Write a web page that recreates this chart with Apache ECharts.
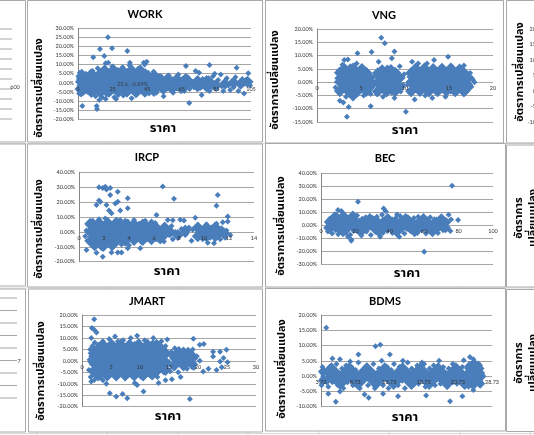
<!DOCTYPE html>
<html>
<head>
<meta charset="utf-8">
<script src="https://cdn.jsdelivr.net/npm/echarts@6/dist/echarts.min.js"></script>
<style>
  html, body { margin: 0; padding: 0; background: #fff; }
  #main { width: 534px; height: 435px; }
</style>
</head>
<body>
<div id="main"></div>
<script>
// ราคา (x) กับ อัตราการเปลี่ยนแปลง % (y) อ่านค่าจากภาพ
const stockNames = ["WORK", "VNG", "IRCP", "BEC", "JMART", "BDMS"];
const yTitle = "อัตราการเปลี่ยนแปลง";
const xTitle = "ราคา";

const workXTicks = [5, 25, 45, 65, 85, 105];
const bdmsXTicks = [3.73, 8.73, 13.73, 18.73, 23.73, 28.73];
const workLabelPoint = [23.6, -0.84];

// จุดกระจาย (ขอบกลุ่มและจุดโดด)
const workPoints = [
  [5.6,-6],[5.8,-3],[5.7,0],[5.9,3],[6,5.5],[6.2,-4.5],[6.3,-1.5],[6.4,1.5],[6.5,4],[6.8,-6.5],[6.9,-2.5],[7,0.5],[7.1,2.8],[7.2,6],
  [7.5,-4],[7.6,-1],[7.8,1.8],[7.9,4.5],[8.2,-5.5],[8.4,-2],[8.5,0],[8.7,3],[9,-3.5],[9.2,1],[9.5,5],[9.8,-1.5],[10,2.5],[10.3,-5],
  [11,-3],[11.5,0.5],[12,4],[12.3,-6],[12.8,2],[13,-1.5],[13.5,6.5],[14,-4],[14.3,1],[14.8,4.5],[15.2,-7.5],[15.5,-1],[16,2.5],[16.4,8],
  [17,-5],[17.3,0],[17.8,3.5],[18.2,-2.5],[18.6,6],[19,-8],[19.3,1.5],[20,-4.5],[20.4,-0.5],[20.8,4],[21.2,7.5],[21.5,-6.5],[22,1.5],[22.5,-2.5],
  [23,5],[24,-5.5],[24.3,2.5],[24.8,9],[25.2,-1.5],[25.5,6],[26,-8],[26.4,-3.5],[26.8,0.5],[27.3,3.5],[27.8,-6],[28,7],[28.5,-1],
  [29,2],[29.5,-4.5],[30,5.5],[30.4,-1.5],[30.8,8.5],[31.2,-7],[31.5,1],[32,-3],[32.5,3.5],[33,-0.5],[33.5,6.5],[34,-5.5],[34.4,1.5],[34.8,9.5],
  [35.2,-2],[35.6,4],[36,-8.5],[36.5,0],[37,2.5],[37.4,-4.5],[37.8,6],[38.2,-1.5],[38.6,3.5],[39,-6.5],[39.5,1],[40,8],[40.3,-3],[40.8,4.5],
  [41.2,-0.5],[41.6,-5],[42,2],[42.5,6.5],[43,-2.5],[43.5,10],[43.8,0.5],[44.2,-4],[44.6,3],[45,-1],[45.5,5.5],[46,-6],[46.4,1.5],[46.8,-2.5],
  [47.3,3.5],[47.8,-4.5],[48.2,0],[48.7,6],[49.2,-2],[49.8,2.5],[50.3,-5.5],
  [51,1],[52,-3],[53,3.5],[53.5,-0.5],[54.5,-7.5],[55,2],[56,-2.5],[57,0.5],[57.5,4],[58.5,-4],[59,1.5],[60,-5.5],[60.5,-1],[61.5,2.5],
  [62.5,-3],[63,4.5],[64,0],[65,-2],[65.5,2],[66.5,-4.5],[67,1],[68,-1.5],[68.5,3],[69.5,-3.5],
  [71,0.5],[72,-2.5],[73,6.5],[73.5,1.5],[74.5,-1],[75,5.5],[75.5,-3],[76,0],[76.5,-6.8],[77,2],[77.5,-2],[78,-0.5],[78.5,1.5],[79,-3],
  [79.5,0.5],[80,-1.5],[80.5,2.5],[81,-4.5],[81.5,-0.5],[82,1],[82.5,-2.5],[83,3.5],[84,-1],[84,5],[85,-3.5],
  [86,1.5],[87.5,4.5],[88,-2],[89,-4.5],[90,0.5],[91,2.5],[92,-1.5],[93,-4],[94,1],[95,-2.5],[96,3],[96.7,8.3],[97.7,-4.5],[98.5,0],
  [99,-2],[100,2],[101,-6],[101.5,-0.5],[102,1.5],[103.4,5.2],[104,0.5],[104.5,-1.5],
  [22.3,25],[17.7,18.6],[24.7,19],[13.8,14],[20.2,14.7],[33.5,17.5],[21,10.7],[22.5,11],[35,11],[43,11],[44.7,11.5],
  [7.5,-12.8],[15.8,-12.8],[16,-14.5],[17.3,-9.5],[21,-9],[27,-9],[69.3,-11.2],[81,9.8],[67.4,9.2]
];
// แกนกลางกลุ่มที่หนาแน่น
const workCore = [
  [6.4,-3.5],[6.7,0.5],[7,3.5],[7.6,-1.5],[7.3,2],[8.3,-3],[8.6,1],
  [10,-2.8],[10.1,2.1],[12.6,-0.2],[12.5,4.6],[12.7,-5.1],[15.2,-2.9],[15.3,2.3],[17.8,-0.4],[17.7,4.8],[17.9,-5.2],
  [20.4,-2.7],[20.5,2.2],[20.3,6.8],[23,-0.3],[23.1,4.6],[22.9,-5],[25.6,-2.8],[25.7,2.3],[25.5,7],
  [28.2,-0.2],[28.1,4.7],[28.3,-5.1],[30.8,-2.9],[30.9,2.1],[30.7,6.6],[33.4,-0.3],[33.5,4.8],[33.3,-5],
  [36,-2.7],[36.1,2.2],[35.9,6.9],[38.6,-0.4],[38.7,4.6],[38.5,-5.2],[41.2,-2.8],[41.3,2.3],[41.1,6.7],
  [43.8,-0.2],[43.9,4.7],[43.7,-5],[46.4,-2.9],[46.5,2.1],[49,-0.3],[49.1,3.8],[48.9,-4.5],
  [51.6,-1.6],[51.7,2],[54.2,0.3],[54.3,-3.5],[56.8,-1.5],[56.9,2.2],[59.4,0.2],[59.5,-3.2],[62,-1.6],[62.1,1.9],
  [64.6,0.1],[64.7,-3],[67.2,-1.4],[67.3,2],[69.8,-0.2],
  [74,-2],[74.1,1],[76.6,-0.5],[79.2,-2],[79.3,1],[81.8,-0.4],[84.4,-1.5],[90,-0.5],[95,0],[99,-0.5],[103,0.5]
];

const vngPoints = [
  [2.1,-2],[2.3,1.5],[2.5,4.5],[2.6,-4.5],[2.8,0],[2.9,6.5],[3,-2.5],[3.1,2.5],[3.3,-5.5],[3.4,-0.5],[3.5,4],[3.6,1],[3.7,-3.5],[3.8,6],
  [3.9,-1],[4,2],[4.1,-6],[4.2,0.5],[4.3,4.5],[4.4,-2.5],[4.5,7],[4.6,-4.5],[4.7,1.5],[4.8,-0.5],[4.9,3.5],[5,-3],[5.1,5.5],[5.2,0],
  [5.3,-5],[5.4,2.5],[5.5,-1.5],[5.6,4],[5.7,-3],[5.8,1],[5.9,-0.5],[6,2],[6.1,-4.5],[6.2,0.5],
  [6.5,-1],[6.7,2.5],[6.8,-4.5],[6.9,0.5],[7.1,4],[7.2,-2.5],[7.4,1.5],[7.5,-5.5],[7.6,-0.5],[7.8,3],[7.9,-3],[8,5.5],[8.1,0],[8.3,-1.5],
  [8.4,2.5],[8.5,-4],[8.6,4.5],[8.8,-6],[8.9,1],[9,-2],[9.1,3.5],[9.3,-0.5],[9.4,6],[9.5,-3.5],[9.6,1.5],[9.8,-1],[9.9,3],
  [10.3,-1],[10.5,2],[10.6,-4],[10.8,4],[11,0],[11.1,-6.5],[11.2,-2],[11.4,2.5],[11.5,7],[11.7,-3.5],[11.8,0.5],[12,4.5],[12.1,-1.5],
  [12.3,-5],[12.4,2],[12.5,7],[12.6,-0.5],[12.8,3.5],[12.9,-3],[13.1,1],[13.1,-6],[13.3,8.3],[13.4,-1.5],[13.5,4],[13.6,-4],[13.8,0],
  [13.9,2.5],[14,-2.5],[14.2,5.5],[14.3,-0.5],[14.5,1.5],[14.6,-5.5],[14.7,-2],[14.9,3.5],[15,0],[15.2,-3.5],[15.3,6],[15.4,1.5],
  [15.6,-1],[15.7,3],[15.9,-4],[16,0.5],[16.1,4.5],[16.3,-2],[16.4,2],[16.6,-0.5],[16.7,6.3],[16.8,-3],[17,1],[17,-3.5],[17.2,3],
  [17.4,-1],[17.4,3.4],[17.6,1.5],[17.7,0.9],[17.9,0],
  [7.3,16.7],[7.7,14.6],[8.8,11.5],[4.6,10.9],[6.2,11.3],[7,7.7],[8.5,9],[3.1,8.3],[3.5,8.5],[3.6,-9.4],[3.4,-13],[6.1,-9.1],
  [10.1,-11.1],[14.9,9.6],[2.6,-7],[3,-7.7],[10.8,7.7]
];
const vngCore = [
  [2.6,-3.3],[2.6,0.1],[2.6,3.5],[3.1,-1.6],[3.1,1.8],[3.1,5],[3.6,-3.5],[3.6,0],[3.6,3.3],[4.1,-1.7],[4.1,1.6],[4.1,5.1],[4.1,-5],
  [4.6,-3.4],[4.6,0.2],[4.6,3.4],[5.1,-1.8],[5.1,1.7],[5.1,4.9],[5.6,-3.3],[5.6,-0.1],[5.6,3.5],[6,-1.7],[6,1.7],
  [6.9,-3.4],[6.9,0],[6.9,3.3],[7.4,-1.6],[7.4,1.8],[7.4,4.5],[7.9,-3.5],[7.9,0.1],[7.9,3.4],[8.4,-1.7],[8.4,1.6],[8.4,4.6],
  [8.9,-3.3],[8.9,0],[8.9,3.5],[9.4,-1.8],[9.4,1.7],
  [10.7,-3.4],[10.7,0],[10.7,3.4],[11.2,-1.7],[11.2,1.7],[11.2,5],[11.7,-3.3],[11.7,0.1],[11.7,3.5],[12.2,-1.6],[12.2,1.8],[12.2,5.1],
  [12.7,-3.5],[12.7,0],[12.7,3.3],[13.2,-1.7],[13.2,1.6],[13.2,4.9],[13.7,-3.4],[13.7,0.2],[13.7,3.4],[14.2,-1.8],[14.2,1.7],[14.2,5],
  [14.7,-3.3],[14.7,-0.1],[14.7,3.5],[15.2,-1.7],[15.2,1.7],[15.2,5.1],[15.7,-3.4],[15.7,0],[15.7,3.3],[16.2,-1.6],[16.2,1.8],[16.2,4.8],
  [16.7,-3.5],[16.7,0.1],[16.7,3.4],[17.2,-1.7],[17.2,1.6]
];

const ircpPoints = [
  [0.5,-3],[0.6,1],[0.7,5],[0.8,-7],[0.9,-1],[1,3],[1.1,7.5],[1.1,-5],[1.2,-10],[1.3,0],[1.4,4],[1.4,-3],[1.5,-7.5],[1.6,2],[1.6,8.5],
  [1.7,-1.5],[1.8,-11],[1.8,5],[1.9,-4.5],[2,0.5],[2.1,9],[2.1,-8],[2.2,3],[2.3,-2],[2.4,6.5],[2.5,-5.5],[2.6,1],[2.7,-10],[2.7,4],
  [2.8,-2.5],[2.9,7.5],[3,-6.5],[3,0],[3.1,3],[3.2,-3.5],[3.3,8],[3.4,-8.5],[3.4,1.5],[3.5,5],[3.6,-1.5],[3.7,-5],[3.8,2.5],[3.9,7],
  [4,-2.5],[4,-9],[4.1,0.5],[4.2,4.5],[4.3,-6],[4.4,8],[4.5,-1],[4.6,2],[4.7,-4],[4.8,5.5],[4.9,0],[5,-7],[5.1,3],[5.2,-2],[5.3,7.5],
  [5.4,-4.5],[5.5,1],[5.6,-0.5],[5.7,4.5],[5.8,-6],[5.9,2],[6,-2.5],[6.1,6],[6.2,-5],
  [6.4,0.5],[6.5,-3],[6.7,3],[6.8,-6.5],[7,1],[7.1,8],[7.2,-2],[7.4,4],[7.5,-5],[7.5,7.8],[7.7,0],[7.9,-3.5],[8.1,8.1],[8.2,2],
  [8.4,7.7],[8.5,-2],[8.6,-1],[8.8,3],[9,-6],
  [9.1,1.5],[9.3,9.5],[9.4,-3],[9.5,0],[9.6,4],[9.8,-1.5],[9.9,-5],[10,2],[10.1,-2.5],[10.2,5],[10.3,-7.3],[10.4,0.5],[10.5,-4],
  [10.6,3],[10.7,-1],[10.8,-7.6],[10.9,1.5],[11,5.5],[11,-3],[11.2,0],[11.3,-5],[11.4,2.5],[11.5,-1.5],[11.7,-4],[11.8,1],[12.1,-2],
  [1.6,30],[1.9,29.4],[2.1,30.3],[2.2,28.4],[2.5,29.4],[1.6,21],[1.4,18],[1.7,20.3],[2.2,18],[2.4,14.3],[2.6,12.5],[2.5,24.7],
  [3.1,27],[3.1,20.3],[2.9,19],[3.3,14.3],[3.9,22.6],[3.9,15.9],[6.7,30.4],[7.6,22.2],[11.1,24.8],[11,17.5],[11.9,10.3],[11.9,7],
  [11.5,6.4],[0.6,-12.1],[1.9,-16.6],[1.4,-14],[2.6,-13.8],[3.1,-13.8],[3.4,-13.8],[3.9,-11],[4.9,-11],[6.2,11.4]
];
const ircpCore = [
  [0.9,-6],[0.9,0],[0.9,5.5],[1.25,-9],[1.25,-3],[1.25,3],[1.6,-6],[1.6,0.2],[1.6,6],[1.95,-9.5],[1.95,-3],[1.95,3.2],
  [2.3,-6.2],[2.3,0],[2.3,6],[2.65,-9],[2.65,-3.1],[2.65,3],[3,-6],[3,0.1],[3,6.2],[3.35,-3],[3.35,3],[3.7,-6],[3.7,0],[3.7,5.5],
  [4.05,-3],[4.05,3],[4.4,-5.5],[4.4,0],[4.4,5],
  [4.75,-2.5],[4.75,3],[5.1,0],[5.1,-5.5],[5.1,5],[5.45,-3],[5.45,3],[5.8,0],[5.8,-5],[5.8,5],[6.15,-2.5],[6.15,3],[6.5,0],[6.5,-4.5],
  [6.85,-1.5],[6.85,3],[7.3,0],[7.9,-2],[8.5,1],
  [9.5,-3],[9.5,3],[9.85,0],[10.2,-3],[10.2,3],[10.55,0],[10.9,-3],[10.9,3],[11.25,0],[11.6,-1]
];

const becPoints = [
  [3,-2],[3.5,2.5],[4,-5],[4.5,0.5],[5,5],[5.5,-3],[6,1.5],[6.5,-6.5],[7,6.5],[7.5,-1],[8,3],[8.5,-4],[9,8],[9.5,0],[10,-7],[10.5,4],
  [11,-2],[11.5,6],[12,1],[12.5,-4.5],[13,9],[13.5,-1],[14,3.5],[14.5,-6],[15,0.5],[15.5,5.5],[16,-3],[16.5,2],[17,-7.5],[17.5,7],
  [18,-1.5],[18.5,3],[19,-4.5],[19.5,0.5],[20,5],[20.5,-2.5],[21,7.5],[21.5,1],[22,-5.5],[22.5,3.5],[23,-1],[23.5,-8],[24,5],[24.5,0],
  [25,-3.5],[25.5,2.5],[26,6],[26.5,-5],[27,1],[27.5,-2],[28,4],[29,-7.7],[29,0],[30,5.5],[30.5,-3],[31,2],[32,-5.5],[32.5,6.5],
  [33,-0.5],[33.5,3.5],[34,-3.5],[35,1],[35.5,8],[36,-6],[36.5,4],[37,-1.5],[38,2.5],[38.5,-4.5],[39,6],[39.5,0],[40,-2.5],[41,4],
  [41.5,-6],[42,1.5],[43,-3],[43.5,5.5],[44,-0.5],[45,3],[45.5,-5],[46,7],[46.5,0.5],[47,-2],[48,4.5],[48.5,-6.5],[49,1],[50,-3],
  [50.5,6],[51,-0.5],[52,3],[52.5,-5],[53,0],[54,5.5],[54.5,-2.5],[55,2],[56,-6],[56.5,6.5],[57,-1],[58,3.5],[58.5,-4],[59,1],
  [60,-2],[60.5,5],[61,-6.5],[61.5,0.5],[62,3],[63,-3],[63.5,6],[64,-0.5],[65,2],[65.5,-5],[66,4.5],[67,-1.5],[67.5,1],[68,-6],
  [68.5,3.5],[69,-2.5],[70,5],[70.5,0],[71,-4],[71.5,2],[72,-1],[73,3.5],[73,-3],
  [76.2,30.4],[21.5,18],[36.4,12.9],[37.7,10.8],[9.9,11.6],[11.8,11],[17.6,-11],[17.6,-12],[15.7,-9],[45.5,-9],[34.4,-9],
  [60,-20.6],[74.2,8],[75.6,4.4],[79.7,3.9],[75.2,-4.5],[44.2,8.2]
];
const becCore = [
  [5,-2.5],[5,2.5],[7.6,0],[7.6,5.2],[10.2,-2.5],[10.2,2.5],[12.8,0],[12.8,-5.2],[15.4,-2.5],[15.4,2.5],[18,0],[18,5.2],
  [20.6,-2.5],[20.6,2.5],[23.2,0],[23.2,-5.2],[25.8,-2.5],[25.8,2.5],[28.4,0],[28.4,5.2],[31,-2.5],[31,2.5],[33.6,0],[33.6,-5.2],
  [36.2,-2.5],[36.2,2.5],[38.8,0],[38.8,5.2],[41.4,-2.5],[41.4,2.5],[44,0],[44,-5.2],[46.6,-2.5],[46.6,2.5],[49.2,0],[49.2,5.2],
  [51.8,-2.5],[51.8,2.5],[54.4,0],[54.4,-5.2],[57,-2.5],[57,2.5],[59.6,0],[59.6,5.2],[62.2,-2.5],[62.2,2.5],[64.8,0],[64.8,-5.2],
  [67.4,-2.5],[67.4,2.5],[70,0],[70,5],[72.4,-2],[72.4,2],[8,6.5],[13,7],[18.5,7]
];

const jmartPoints = [
  [1.2,-4],[1.3,0.5],[1.4,5],[1.5,-7],[1.6,2],[1.7,-1.5],[1.8,6.5],[1.9,-5],[2,3],[2.1,-2],[2.2,8],[2.3,0],[2.4,-6],[2.5,4.5],
  [2.6,-3],[2.7,1.5],[2.8,7],[2.9,-4.5],[3,-0.5],[3.1,3.5],[3.2,-7],[3.3,5.5],[3.4,0.5],[3.5,-2.5],[3.6,8.5],[3.7,2],[3.8,-5.5],
  [3.9,-1],[4,4],[4.1,6.5],[4.2,-3.5],[4.3,1],[4.5,-6.5],[4.6,3],[4.7,9.5],[4.8,-1.5],[5,5],[5.1,-4],[5.2,0.5],[5.4,7.5],[5.5,-2],
  [5.6,2.5],[5.8,-6],[5.9,4.5],[6,-0.5],[6.2,8.5],[6.3,-3.5],[6.4,1.5],[6.6,6],[6.7,-5],[6.8,3],[7,-1.5],[7.1,9],[7.2,0],[7.4,-7.5],
  [7.5,4.5],[7.6,-3],[7.8,6.5],[7.9,1.5],[8,-5],[8.2,3.5],[8.3,-1],[8.4,10],[8.6,-6.5],[8.7,5],[8.8,0.5],[9,-3],[9.1,7.5],[9.2,2.5],
  [9.4,-5.5],[9.5,-0.5],[9.6,4.5],[9.8,8.5],[9.9,-2.5],[10,1],[10.2,-7],[10.3,6],[10.4,-4],[10.6,3],[10.7,-1],[10.8,9],[11,-5.5],
  [11.1,5],[11.2,0],[11.4,-2.5],[11.5,7.5],[11.6,2],[11.8,-6.5],[11.9,4],[12,-1.5],[12.2,8],[12.3,1],[12.4,-4],[12.6,5.5],[12.7,-2.5],
  [12.8,3],[13,-7],[13.1,0],[13.2,6.5],[13.4,-3.5],[13.5,2.5],[13.7,8.5],[13.8,-1],[14,4.5],[14.1,-5],[14.3,1.5],[14.4,6.5],[14.6,-2],
  [14.8,3],[15,-0.5],
  [15.2,-4.5],[15.4,4],[15.6,1],[15.8,-2.5],[16,5.5],[16.2,-0.5],[16.4,2.5],[16.6,-5],[16.8,0.5],[17,3.5],[17.2,-2],[17.5,5],
  [17.7,-0.5],[17.9,1.5],[18.1,-3.5],[18.3,4],[18.5,0],[18.7,2.5],[18.9,-1.5],[19.1,5],[19.3,-3],[19.5,1],[19.8,2],[20.3,0],
  [2.1,18.2],[1.7,14.3],[2.1,13.6],[2.5,12.4],[1.6,10],[5.7,10.6],[9.5,11],[12.3,10],[14.7,9.3],[19.2,9.6],[20.3,7],[21,7.3],
  [24.9,4.8],[23.8,4],[22.6,4],[4.8,-14.1],[5.9,-15.5],[7,-14.5],[7.8,-16.3],[10.6,-13.4],[18.6,-16.6],[1.6,-9],[2.1,-8.3],
  [3.6,-8.5],[4.2,-10],[9.1,-9.7],[9.5,-10.5],[13.2,-9.7],[14.4,-8.5],[15.5,-8],[17,-7],[20.9,-4.7],[21.8,-3.5],[23.2,-4],
  [24.1,-2.8],[25.1,-0.6],[23.8,-0.3],[24.4,1.2],[22.6,1.9]
];
const jmartCore = [
  [2,-4.5],[2,-0.6],[2,3.3],[2.8,-6.4],[2.8,-2.5],[2.8,1.4],[2.8,5.3],[3.55,-4.5],[3.55,-0.6],[3.55,3.3],[3.55,7],
  [4.35,-6.4],[4.35,-2.5],[4.35,1.4],[4.35,5.3],[5.1,-4.5],[5.1,-0.6],[5.1,3.3],[5.1,7],[5.9,-6.4],[5.9,-2.5],[5.9,1.4],[5.9,5.3],
  [6.65,-4.5],[6.65,-0.6],[6.65,3.3],[6.65,7],[7.45,-6.4],[7.45,-2.5],[7.45,1.4],[7.45,5.3],[8.2,-4.5],[8.2,-0.6],[8.2,3.3],[8.2,7],
  [9,-6.4],[9,-2.5],[9,1.4],[9,5.3],[9.75,-4.5],[9.75,-0.6],[9.75,3.3],[9.75,7],[10.55,-6.4],[10.55,-2.5],[10.55,1.4],[10.55,5.3],
  [11.3,-4.5],[11.3,-0.6],[11.3,3.3],[11.3,7],[12.1,-6],[12.1,-2.5],[12.1,1.4],[12.1,5.3],[12.85,-4.5],[12.85,-0.6],[12.85,3.3],[12.85,7],
  [13.65,-2.5],[13.65,1.4],[13.65,5.3],[14.4,-4],[14.4,-0.6],[14.4,3.3],
  [15.9,-2],[15.9,2],[16.7,0],[16.7,3.9],[17.5,-2],[17.5,2],[18.3,0],[18.3,3.5],[19,-1.5],[19,2]
];

const bdmsPoints = [
  [3.8,-3],[3.85,-1],[3.9,1],[3.95,3],[4,-2],[4.05,0],[4.1,2],
  [4.4,-1.5],[4.6,1.5],[4.8,-3.5],[5,3],[5.2,0],[5.4,-2],[5.6,2],[5.8,-0.5],[6,4],[6.2,-3],[6.4,1],[6.6,-1.5],[6.8,2.5],[7,-4],
  [7.2,0.5],[7.4,3.5],[7.6,-2],[7.8,1.5],[8,-0.5],[8.2,3],[8.4,-3],[8.6,0],[8.8,2],[9,-1.5],[9.2,4.5],[9.4,-4],[9.6,1],[9.8,-2],
  [10,2.5],[10.2,-0.5],[10.4,3.5],[10.6,-3],[10.8,0.5],[11,2],[11.2,-1.5],[11.4,4],[11.6,-4],[11.8,1],[12,-2],[12.2,2.5],[12.4,0],
  [12.6,5],[12.8,-3],[13,1.5],[13.2,-1],[13.4,3],[13.6,-4],[13.8,0.5],[14,2],[14.2,-2],[14.4,4],[14.6,-0.5],[14.8,1.5],[15,-3],
  [15.2,3],[15.4,0],[15.6,-1.5],[15.8,2.5],[16,-4],[16.2,1],[16.4,4.5],[16.6,-2],[16.8,0.5],[17,2.5],[17.2,-3],[17.4,1],[17.6,-1],
  [17.8,3.5],[18,-2.5],[18.2,0],[18.4,2],[18.6,-1.5],[18.8,4],[19,-3.5],[19.2,1],[19.4,-0.5],[19.6,2.5],[19.8,-2],[20,0.5],[20.2,3.5],
  [20.4,-3],[20.6,1.5],[20.8,-1],[21,2],[21.2,-2.5],[21.4,0],[21.6,3],[21.8,-1.5],[22,1],[22.2,-3.5],[22.4,2.5],[22.6,-0.5],[22.8,1.5],
  [23,-2],[23.2,3.5],[23.4,0],[23.6,-2.5],[23.8,2],[24,-1],[24.2,1],[24.4,3],[24.6,-3],
  [24.8,0.5],[25,-2],[25.1,2.5],[25.3,-3.5],[25.4,0],[25.5,4],[25.7,-1.5],[25.8,1.5],[26,-3],[26.1,3],[26.3,-0.5],[26.4,1],
  [26.5,-2.5],[26.7,2],[26.8,4],[26.9,-1],[27,0.5],[27.1,-2],[27.2,2.5],[27.3,1],
  [4.5,15.8],[11.7,9.8],[12.4,10.3],[9.2,7.1],[13.8,7.1],[24.6,5.2],[25.5,6.3],[26,5.5],[5.9,-8.4],[4.8,-5.8],[6.5,-5],
  [10.7,-7.1],[10.1,-6],[12.8,-5.8],[15,-6.6],[19.1,-6.3],[22.6,-8.2],[24.4,-6.6],[26,-4.5],[5.4,5.8],[6.5,5.5],[8,4.8],
  [15.7,5],[18.5,4.5],[21,5],[23,4]
];
const bdmsCore = [
  [4,-1.5],[4,1.5],[4.6,-1.45],[4.6,1.45],[5.25,0],[5.25,2.9],[5.9,-1.45],[5.9,1.45],[6.55,0],[6.55,-2.9],[7.2,-1.45],[7.2,1.45],
  [7.85,0],[7.85,2.9],[8.5,-1.45],[8.5,1.45],[9.15,0],[9.15,-2.9],[9.8,-1.45],[9.8,1.45],[10.45,0],[10.45,2.9],[11.1,-1.45],[11.1,1.45],
  [11.75,0],[11.75,-2.9],[12.4,-1.45],[12.4,1.45],[13.05,0],[13.05,2.9],[13.7,-1.45],[13.7,1.45],[14.35,0],[14.35,-2.9],[15,-1.45],[15,1.45],
  [15.65,0],[15.65,2.9],[16.3,-1.45],[16.3,1.45],[16.95,0],[16.95,-2.9],[17.6,-1.45],[17.6,1.45],[18.25,0],[18.25,2.9],[18.9,-1.45],[18.9,1.45],
  [19.55,0],[19.55,-2.9],[20.2,-1.45],[20.2,1.45],[20.85,0],[20.85,2.9],[21.5,-1.45],[21.5,1.45],[22.15,0],[22.15,-2.9],[22.8,-1.45],[22.8,1.45],
  [23.45,0],[23.45,2.9],[24.1,-1.45],[24.1,1.45],[24.75,0],[24.75,-2.9],[25.4,-1.45],[25.4,1.45],[26.05,0],[26.05,2.9],[26.7,-1.45],[26.7,1.45],
  [25.4,3.2],[26,-3],[26.7,3.5],[27,-2.5],[26.1,4.2],[27.2,0]
];

// ป้ายแกนของกราฟที่ถูกตัดขอบขวา
const rightYTicks = ["20.00%", "15.00%", "10.00%", "5.00%", "0.00%", "-5.00%", "-10.00%"];

(function () {
  const blue = "#4A7EBB";
  const gridColor = "#a6a6a6";
  const axisColor = "#868686";
  const boxColor = "#a9a9a9";
  const txtColor = "#333333";
  const latin = "Lato, 'Liberation Sans', sans-serif";
  const thai = "'Noto Sans Thai', 'Noto Sans Thai UI', Loma, Garuda, Tahoma, 'Noto Sans', sans-serif";

  // ตำแหน่งกราฟแต่ละอัน
  const panels = [
    { data: workPoints, core: workCore, coreSize: 12, grid: [78, 28.3, 173, 90.7], x: [5, 105, 20], xTicks: workXTicks, y: [-20, 30, 5],
      box: [27, 0.5, 235, 141.5], title: [145, 14], yT: [40, 88], xT: [163, 129] },
    { data: vngPoints, core: vngCore, coreSize: 12, grid: [317, 29, 176, 93], x: [0, 20, 5], y: [-15, 20, 5],
      box: [265, 0.5, 238, 142.5], title: [384, 15], yT: [276, 80], xT: [405, 131] },
    { data: ircpPoints, core: ircpCore, coreSize: 12, grid: [79, 172.3, 175, 89.4], x: [0, 14, 2], y: [-20, 40, 10],
      box: [27, 144, 235, 143], title: [147, 157], yT: [40, 229], xT: [167, 272] },
    { data: becPoints, core: becCore, coreSize: 11, grid: [321, 173.3, 172, 90.7], x: [0, 100, 20], y: [-30, 40, 10],
      box: [265, 143.5, 240, 143.5], title: [385, 158], yT: [282, 226], xT: [407, 274] },
    { data: jmartPoints, core: jmartCore, coreSize: 12, grid: [82, 315, 174, 91.7], x: [0, 30, 5], y: [-20, 20, 5],
      box: [28, 289, 234, 143], title: [147, 301], yT: [42, 371], xT: [168, 417] },
    { data: bdmsPoints, core: bdmsCore, coreSize: 10, grid: [321, 315, 171, 91.7], x: [3.73, 28.73, 5], xTicks: bdmsXTicks, y: [-10, 20, 5],
      box: [265, 288.5, 240, 142.5], title: [385, 301], yT: [283, 369], xT: [405, 418] }
  ];

  const grids = [], xAxes = [], yAxes = [], series = [], graphics = [];

  // เส้นตาราง Excel ด้านหลัง
  [37, 107, 178, 248, 319, 389, 460, 530].forEach(function (x) {
    graphics.push({ type: "line", z: -30, silent: true, shape: { x1: x, y1: 0, x2: x, y2: 435 }, style: { stroke: "#dadada", lineWidth: 1 } });
  });
  [143.5, 288, 433.5].forEach(function (y) {
    graphics.push({ type: "line", z: -30, silent: true, shape: { x1: 0, y1: y, x2: 534, y2: y }, style: { stroke: "#dadada", lineWidth: 1 } });
  });

  // กรอบกราฟด้านซ้ายและขวาที่ถูกตัด
  [[-5, 0.5, 30, 141.5], [-5, 144, 30, 142], [-5, 289, 30, 143], [506, 0.5, 40, 142.5], [506, 145, 40, 142], [506, 289.5, 40, 142]].forEach(function (b) {
    graphics.push({ type: "rect", z: -20, silent: true, shape: { x: b[0] + 0.5, y: b[1], width: b[2], height: b[3] },
      style: { fill: "#fff", stroke: boxColor, lineWidth: 1 } });
  });
  for (let i = 0; i < 10; i++) {
    const y = 29 + i * 10;
    graphics.push({ type: "line", z: -10, silent: true, shape: { x1: 0, y1: y, x2: 12, y2: y }, style: { stroke: gridColor, lineWidth: 1 } });
  }
  for (let i = 0; i < 9; i++) {
    const y = 298 + i * 12.5;
    graphics.push({ type: "line", z: -10, silent: true, shape: { x1: 0, y1: y, x2: 17, y2: y }, style: { stroke: gridColor, lineWidth: 1 } });
  }
  graphics.push({ type: "text", z: 10, silent: true, style: { x: 15, y: 87, text: "600", align: "center", verticalAlign: "middle", font: "5.5px " + latin, fill: txtColor } });
  graphics.push({ type: "text", z: 10, silent: true, style: { x: 19, y: 361, text: "7", align: "center", verticalAlign: "middle", font: "5.5px " + latin, fill: txtColor } });
  rightYTicks.forEach(function (t, i) {
    graphics.push({ type: "text", z: 10, silent: true, style: { x: 548, y: 29 + i * 15.5, text: t, align: "right", verticalAlign: "middle", font: "5.5px " + latin, fill: txtColor } });
  });
  graphics.push({ type: "text", z: 10, silent: true, x: 521, y: 72, rotation: Math.PI / 2,
    style: { x: 0, y: 0, text: yTitle, align: "center", verticalAlign: "middle", font: "bold 11px " + thai, fill: "#000" } });
  [218, 363].forEach(function (cy) {
    graphics.push({ type: "text", z: 10, silent: true, x: 520, y: cy, rotation: Math.PI / 2,
      style: { x: 0, y: 0, text: "อัตราการ", align: "center", verticalAlign: "middle", font: "bold 11px " + thai, fill: "#000" } });
    graphics.push({ type: "text", z: 10, silent: true, x: 534, y: cy, rotation: Math.PI / 2,
      style: { x: 0, y: 0, text: "เปลี่ยนแปลง", align: "center", verticalAlign: "middle", font: "bold 11px " + thai, fill: "#000" } });
  });

  panels.forEach(function (p, i) {
    graphics.push({ type: "rect", z: -20, silent: true, shape: { x: p.box[0] + 0.5, y: p.box[1], width: p.box[2], height: p.box[3] },
      style: { fill: "#fff", stroke: boxColor, lineWidth: 1 } });
    graphics.push({ type: "text", z: 10, silent: true, style: { x: p.title[0], y: p.title[1], text: stockNames[i], align: "center", verticalAlign: "middle", font: "bold 11px " + latin, fill: "#000" } });
    graphics.push({ type: "text", z: 10, silent: true, x: p.yT[0], y: p.yT[1], rotation: Math.PI / 2,
      style: { x: 0, y: 0, text: yTitle, align: "center", verticalAlign: "middle", font: "bold 11px " + thai, fill: "#000" } });
    graphics.push({ type: "text", z: 10, silent: true, style: { x: p.xT[0], y: p.xT[1], text: xTitle, align: "center", verticalAlign: "middle", font: "bold 13px " + thai, fill: "#000" } });

    grids.push({ left: p.grid[0], top: p.grid[1], width: p.grid[2], height: p.grid[3], containLabel: false, outerBoundsMode: "none" });

    // แกน x วางที่ระดับ 0% ของแกน y (เส้น 0% คือเส้นตารางอยู่แล้ว)
    const zeroShift = p.grid[3] * (0 - p.y[0]) / (p.y[1] - p.y[0]);
    const xa = {
      type: "value", gridIndex: i, min: p.x[0], max: p.x[1], position: "bottom", offset: -zeroShift, z: 5,
      axisLine: { show: false, onZero: false },
      axisTick: { show: false },
      splitLine: { show: false },
      axisLabel: { fontSize: 5.5, color: txtColor, fontFamily: latin, margin: 3 }
    };
    if (p.xTicks) {
      xa.axisLabel.customValues = p.xTicks;
      xa.axisLabel.formatter = function (v) { return String(v); };
    } else {
      xa.interval = p.x[2];
    }
    xAxes.push(xa);

    yAxes.push({
      type: "value", gridIndex: i, min: p.y[0], max: p.y[1], interval: p.y[2],
      axisLine: { show: true, onZero: false, lineStyle: { color: axisColor, width: 1 } },
      axisTick: { show: false },
      splitLine: { show: true, lineStyle: { color: gridColor, width: 1 } },
      axisLabel: { fontSize: 5.5, color: txtColor, fontFamily: latin, margin: 4,
        formatter: function (v) { return v.toFixed(2) + "%"; } }
    });

    series.push({
      type: "scatter", xAxisIndex: i, yAxisIndex: i, data: p.core,
      symbol: "diamond", symbolSize: p.coreSize, itemStyle: { color: blue, opacity: 1 }, silent: true
    });
    series.push({
      type: "scatter", xAxisIndex: i, yAxisIndex: i, data: p.data,
      symbol: "diamond", symbolSize: 6, itemStyle: { color: blue, opacity: 1 }, silent: true
    });
    if (i === 0) {
      series.push({
        type: "scatter", xAxisIndex: i, yAxisIndex: i, z: 6, silent: true,
        symbol: "diamond", symbolSize: 6, itemStyle: { color: blue },
        data: [{ value: workLabelPoint }],
        label: { show: true, position: "right", distance: 4,
          formatter: workLabelPoint[0] + ", " + workLabelPoint[1].toFixed(2) + "%",
          fontSize: 5.5, color: txtColor, fontFamily: latin }
      });
    }
  });

  const mychart = echarts.init(document.getElementById("main"), null, { renderer: "canvas" });
  mychart.setOption({
    backgroundColor: "#fff",
    animation: false,
    grid: grids,
    xAxis: xAxes,
    yAxis: yAxes,
    series: series,
    graphic: { elements: graphics }
  });
})();
</script>
</body>
</html>
